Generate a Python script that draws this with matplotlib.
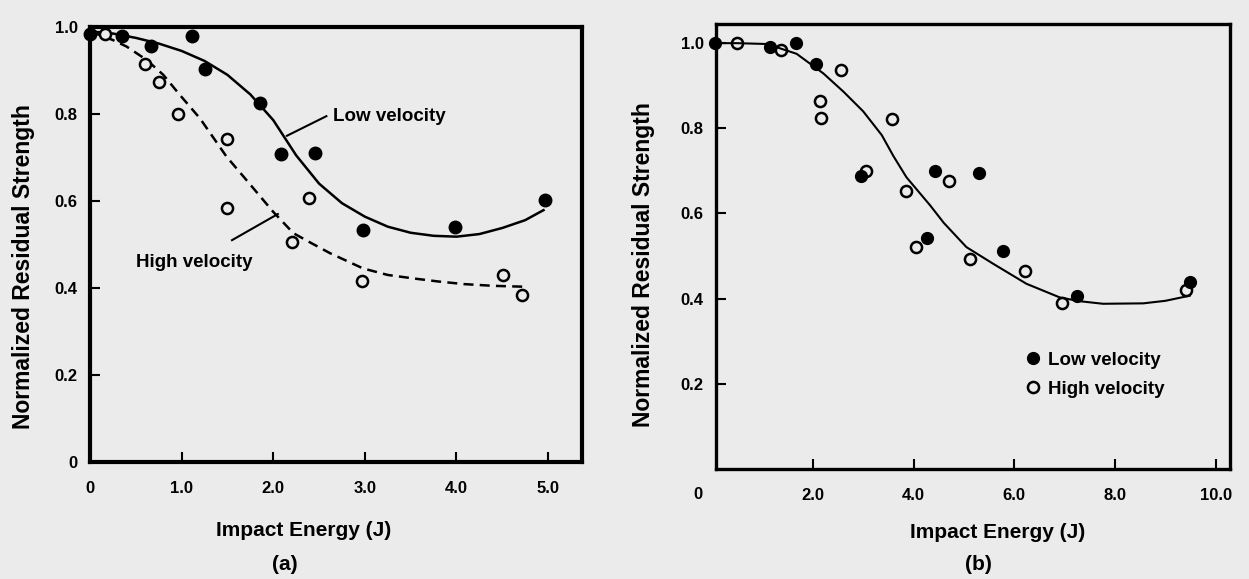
import numpy as np
import matplotlib
matplotlib.use('Agg')
import matplotlib.pyplot as plt

# ---- data: panel (a) ----
a_low_x = [0.0, 0.35, 0.67, 1.11, 1.25, 1.86, 2.09, 2.46, 2.98, 3.98, 4.97]
a_low_y = [0.985, 0.98, 0.956, 0.979, 0.903, 0.825, 0.708, 0.71, 0.533, 0.541, 0.602]
a_high_x = [0.16, 0.60, 0.75, 0.96, 1.49, 1.49, 2.39, 2.20, 2.97, 4.51, 4.72]
a_high_y = [0.985, 0.914, 0.874, 0.80, 0.742, 0.583, 0.608, 0.505, 0.415, 0.431, 0.384]
a_low_fit_x = [0.0, 0.25, 0.5, 0.75, 1.0, 1.25, 1.5, 1.75, 2.0, 2.25, 2.5,
               2.75, 3.0, 3.25, 3.5, 3.75, 4.0, 4.25, 4.5, 4.75, 4.95]
a_low_fit_y = [0.99, 0.985, 0.975, 0.962, 0.945, 0.922, 0.89, 0.845, 0.786, 0.705, 0.64,
               0.595, 0.564, 0.541, 0.527, 0.52, 0.518, 0.524, 0.538, 0.556, 0.579]
a_high_fit_x = [0.0, 0.25, 0.4, 0.62, 0.8, 0.98, 1.2, 1.49, 1.7, 1.86, 2.0, 2.22, 2.4,
                2.62, 2.98, 3.25, 3.53, 3.8, 4.08, 4.4, 4.73]
a_high_fit_y = [0.99, 0.97, 0.955, 0.924, 0.89, 0.844, 0.79, 0.702, 0.65, 0.61, 0.575,
                0.526, 0.505, 0.48, 0.445, 0.43, 0.422, 0.415, 0.409, 0.405, 0.403]

# ---- data: panel (b) ----
b_low_x = [0.06, 1.15, 1.66, 2.06, 2.95, 4.42, 4.26, 5.30, 5.78, 7.24, 9.48]
b_low_y = [1.0, 0.99, 1.0, 0.951, 0.688, 0.70, 0.542, 0.696, 0.513, 0.407, 0.438]
b_high_x = [0.49, 1.37, 2.57, 2.14, 2.16, 3.57, 3.05, 3.86, 4.71, 4.05, 5.12, 6.21, 6.95, 9.40]
b_high_y = [1.0, 0.984, 0.936, 0.864, 0.825, 0.823, 0.699, 0.654, 0.676, 0.521, 0.493,
            0.466, 0.39, 0.42]
b_fit_x = [0.06, 0.5, 1.09, 1.68, 2.21, 2.61, 3.0, 3.37, 3.6, 3.86, 4.33, 4.6, 5.05, 5.58,
           6.24, 6.90, 7.3, 7.76, 8.56, 9.0, 9.48]
b_fit_y = [1.0, 1.0, 0.998, 0.975, 0.929, 0.886, 0.84, 0.784, 0.735, 0.685, 0.619, 0.578,
           0.521, 0.482, 0.435, 0.403, 0.394, 0.388, 0.389, 0.395, 0.407]

a_xticks = [0, 1, 2, 3, 4, 5]
a_xlabels = ['0', '1.0', '2.0', '3.0', '4.0', '5.0']
a_yticks = [0, 0.2, 0.4, 0.6, 0.8, 1.0]
a_ylabels = ['0', '0.2', '0.4', '0.6', '0.8', '1.0']
b_xticks = [2, 4, 6, 8, 10]
b_xlabels = ['2.0', '4.0', '6.0', '8.0', '10.0']
b_yticks = [0.2, 0.4, 0.6, 0.8, 1.0]
b_ylabels = ['0.2', '0.4', '0.6', '0.8', '1.0']

bg = '#ebebeb'
fam = ['Liberation Sans', 'DejaVu Sans']

fig = plt.figure(figsize=(12.49, 5.79), dpi=100, facecolor=bg)
axa = fig.add_axes([90 / 1249, 1 - 462 / 579, 492 / 1249, 435 / 579], facecolor=bg)
axb = fig.add_axes([716 / 1249, 1 - 469 / 579, 514 / 1249, 445 / 579], facecolor=bg)

# panel (a)
axa.plot(a_low_fit_x, a_low_fit_y, color='black', lw=1.8, zorder=2)
axa.plot(a_high_fit_x, a_high_fit_y, color='black', lw=1.8, ls=(0, (4, 2.5)), zorder=2)
axa.plot(a_low_x, a_low_y, 'o', color='black', ms=9, zorder=3, clip_on=False)
axa.plot(a_high_x, a_high_y, 'o', mfc=bg, mec='black', mew=1.8, ms=8, zorder=3, clip_on=False)
axa.set_xlim(0, 5.37)
axa.set_ylim(0, 1.0)
axa.set_xticks(a_xticks, a_xlabels)
axa.set_yticks(a_yticks, a_ylabels)
axa.plot([2.58, 2.15], [0.795, 0.75], color='black', lw=1.5)
axa.text(2.65, 0.795, 'Low velocity', family=fam, weight='bold', fontsize=13.5, va='center')
axa.plot([1.55, 2.05], [0.51, 0.57], color='black', lw=1.5)
axa.text(0.5, 0.458, 'High velocity', family=fam, weight='bold', fontsize=13.5, va='center')
axa.set_xlabel('Impact Energy (J)', family=fam, weight='bold', fontsize=15)
axa.xaxis.set_label_coords(0.434, -0.136)
axa.set_ylabel('Normalized Residual Strength', family=fam, weight='bold', fontsize=16.5)
axa.yaxis.set_label_coords(-0.112, 0.45)
fig.text(285 / 1249, 1 - 565 / 579, '(a)', family=fam, weight='bold', fontsize=15,
         ha='center', va='center')
for s in axa.spines.values():
    s.set_linewidth(3)

# panel (b)
axb.plot(b_fit_x, b_fit_y, color='black', lw=1.5, zorder=2)
axb.plot(b_low_x, b_low_y, 'o', color='black', ms=8.5, zorder=3, clip_on=False,
         label='Low velocity')
axb.plot(b_high_x, b_high_y, 'o', mfc='none', mec='black', mew=1.8, ms=8, zorder=4,
         clip_on=False, label='High velocity')
axb.set_xlim(0.08, 10.28)
axb.set_ylim(0, 1.045)
axb.set_xticks(b_xticks, b_xlabels)
axb.set_yticks(b_yticks, b_ylabels)
axb.text(-0.035, -0.058, '0', transform=axb.transAxes, family=fam, weight='bold',
         fontsize=12, ha='center', va='center')
leg = axb.legend(loc='lower left', bbox_to_anchor=(0.565, 0.122), frameon=False,
                 handletextpad=0.3, labelspacing=0.65, handlelength=1.0,
                 prop={'family': fam, 'weight': 'bold', 'size': 13.5})
axb.set_xlabel('Impact Energy (J)', family=fam, weight='bold', fontsize=15)
axb.xaxis.set_label_coords(0.547, -0.121)
axb.set_ylabel('Normalized Residual Strength', family=fam, weight='bold', fontsize=16.5)
axb.yaxis.set_label_coords(-0.118, 0.46)
fig.text(978 / 1249, 1 - 565 / 579, '(b)', family=fam, weight='bold', fontsize=15,
         ha='center', va='center')
for s in axb.spines.values():
    s.set_linewidth(2.4)

for ax in (axa, axb):
    ax.tick_params(direction='in', length=7, width=1.5, top=False, right=False)
    ax.tick_params(axis='x', pad=14)
    ax.tick_params(axis='y', pad=9)
    for lab in ax.get_xticklabels() + ax.get_yticklabels():
        lab.set_family(fam)
        lab.set_weight('bold')
        lab.set_fontsize(12)

fig.savefig('out.png', dpi=100, facecolor=bg)
